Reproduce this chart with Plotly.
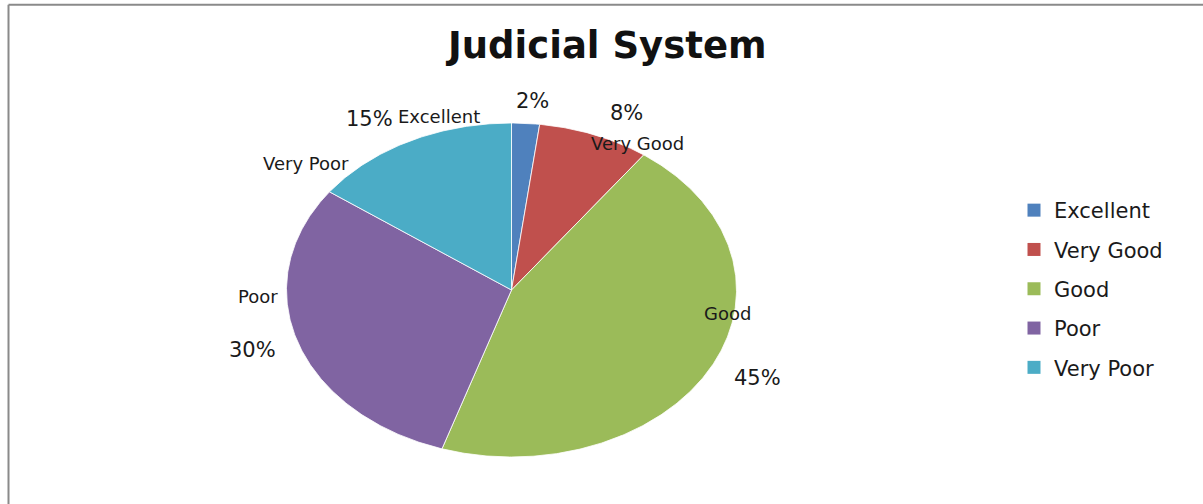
import math
import plotly.graph_objects as go

# Ratings for the judicial system (percent of respondents)
categories = ["Excellent", "Very Good", "Good", "Poor", "Very Poor"]
shares = [2, 8, 45, 30, 15]
colors = ["#4F81BD", "#C0504D", "#9BBB59", "#8064A2", "#4BACC6"]

# Figure geometry (pixels)
W, H = 1203, 504
CX, CY = 511.5, 290.0      # pie centre
RX, RY = 225.0, 167.0      # horizontal / vertical radius (oval pie)

# Text label anchors in pixels, one per category
cat_label_px = [(439, 116), (637, 143), (727, 313), (258, 296), (306, 163)]
pct_label_px = [(532, 101), (626, 113), (757, 378), (252, 350), (369, 119)]


def px_to_data(px, py):
    return (px - CX) / RX, (CY - py) / RY


fig = go.Figure()

total = float(sum(shares))
start = 0.0
for name, val, col in zip(categories, shares, colors):
    sweep = 360.0 * val / total
    steps = max(8, int(sweep * 2))
    xs, ys = [0.0], [0.0]
    for k in range(steps + 1):
        th = math.radians(start + sweep * k / steps)
        xs.append(math.sin(th))
        ys.append(math.cos(th))
    xs.append(0.0)
    ys.append(0.0)
    fig.add_trace(go.Scatter(
        x=xs, y=ys, mode="lines", fill="toself", fillcolor=col,
        line=dict(color="rgba(255,255,255,0.8)", width=1),
        hoverinfo="skip", showlegend=False,
    ))
    start += sweep

# Legend entries (square swatches)
for name, col in zip(categories, colors):
    fig.add_trace(go.Scatter(
        x=[None], y=[None], mode="markers", name=name,
        marker=dict(symbol="square", size=13, color=col),
        legendgroup=name, showlegend=True,
    ))

annotations = []
for name, val, (cx_, cy_), (px_, py_) in zip(categories, shares, cat_label_px, pct_label_px):
    x, y = px_to_data(cx_, cy_)
    annotations.append(dict(x=x, y=y, xref="x", yref="y", text=name,
                            showarrow=False,
                            font=dict(family="DejaVu Sans", size=18, color="#1a1a1a")))
    x, y = px_to_data(px_, py_)
    annotations.append(dict(x=x, y=y, xref="x", yref="y",
                            text=f"{val}%", showarrow=False,
                            font=dict(family="DejaVu Sans", size=21, color="#1a1a1a")))

annotations.append(dict(x=605.5 / W, y=1 - 45 / H, xref="paper", yref="paper",
                        text="<b>Judicial System</b>", showarrow=False,
                        xanchor="center", yanchor="middle",
                        font=dict(family="DejaVu Sans", size=37, color="#111111")))

shapes = [
    dict(type="line", xref="paper", yref="paper",
         x0=8.5 / W, y0=1 - 4.8 / H, x1=1.0, y1=1 - 4.8 / H,
         line=dict(color="#8a8a8a", width=2)),
    dict(type="line", xref="paper", yref="paper",
         x0=8.5 / W, y0=1 - 4.8 / H, x1=8.5 / W, y1=0.0,
         line=dict(color="#8a8a8a", width=2)),
]

fig.update_layout(
    width=W, height=H,
    margin=dict(l=0, r=0, t=0, b=0),
    paper_bgcolor="white", plot_bgcolor="white",
    xaxis=dict(range=[(0 - CX) / RX, (W - CX) / RX], visible=False, fixedrange=True),
    yaxis=dict(range=[-(H - CY) / RY, CY / RY], visible=False, fixedrange=True),
    showlegend=True,
    legend=dict(x=1014 / W, y=1 - 190 / H, xanchor="left", yanchor="top",
                font=dict(family="DejaVu Sans", size=21, color="#1a1a1a"),
                tracegroupgap=9, bgcolor="rgba(0,0,0,0)"),
    annotations=annotations,
    shapes=shapes,
)

fig.write_html("out.html")
